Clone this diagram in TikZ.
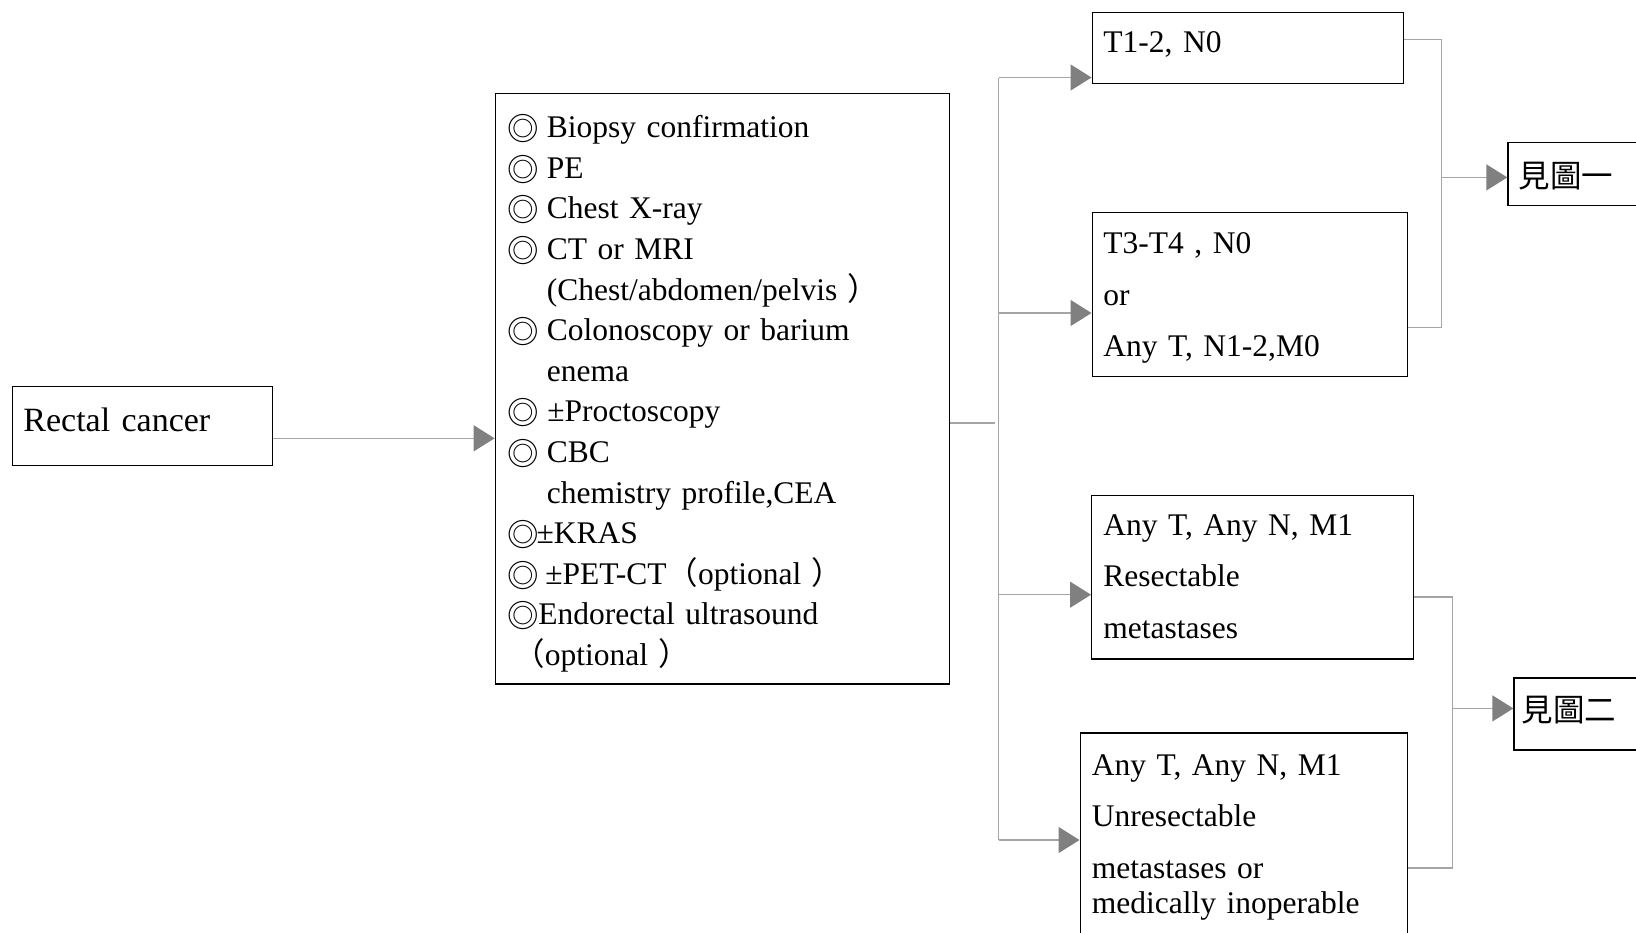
\documentclass[tikz,border=0pt]{standalone}
\usepackage{fontspec}
\setmainfont{Liberation Serif}
\newfontfamily\cjkfont{Noto Sans CJK TC}
\usetikzlibrary{arrows.meta}
\definecolor{linegray}{RGB}{165,165,165}
\definecolor{tipgray}{RGB}{128,128,128}
\newcommand{\listfont}{\fontsize{15.75pt}{20.3pt}\selectfont}
\newcommand{\rightfont}{\fontsize{15.75pt}{25.9pt}\selectfont}
\newcommand{\figfont}{\cjkfont\fontsize{15.75pt}{18pt}\selectfont}
\newcommand{\dcirc}[1][19.75pt]{\makebox[#1][l]{\raisebox{-1.5pt}{\cjkfont ◎}}}
\newcommand{\indentby}[1][19.75pt]{\hspace*{#1}}
\newcommand{\fwl}{{\cjkfont （}}
\newcommand{\fwr}{{\cjkfont ）}}
\tikzset{
  flowbox/.style={draw, line width=0.6pt, inner sep=0pt, anchor=north west},
  boxtext/.style={anchor=base west, inner sep=0pt, align=left, text width=#1},
  boxtext/.default=200pt,
  link/.style={draw=linegray, line width=0.7pt},
  linkarrow/.style={link, -{Triangle[length=10.5pt,width=13pt,color=tipgray]}},
}
\begin{document}
\begin{tikzpicture}[x=0.5pt, y=-0.5pt]
\useasboundingbox (0,0) rectangle (1636,932);
\clip (0,0) rectangle (1636,932);

% boxes
\node[flowbox, minimum width=130pt, minimum height=39.5pt] (rc) at (11.5,385.5) {};
\node[flowbox, minimum width=227pt, minimum height=295.25pt] (exam) at (494.6,92.9) {};
\node[flowbox, minimum width=155.5pt, minimum height=35.6pt] (t12) at (1091.5,11.5) {};
\node[flowbox, minimum width=157.5pt, minimum height=82.2pt] (t34) at (1091.5,211.7) {};
\node[flowbox, minimum width=161pt, minimum height=81.9pt] (res) at (1091,494.6) {};
\node[flowbox, minimum width=163.5pt, minimum height=105pt] (unres) at (1079.5,732.3) {};
\node[flowbox, minimum width=80pt, minimum height=31.65pt] (fig1) at (1507.3,141.7) {};
\node[flowbox, minimum width=80pt, minimum height=36pt] (fig2) at (1513.3,677.3) {};

% texts
\node[boxtext, font=\fontsize{17pt}{20pt}\selectfont] (rctxt) at (23,431) {Rectal cancer};
\node[boxtext=260pt, font=\listfont] (examtxt) at (507,137.7) {%
\dcirc Biopsy confirmation\\
\dcirc PE\\
\dcirc Chest X-ray\\
\dcirc CT or MRI\\
\indentby(Chest/abdomen/pelvis \fwr\\
\dcirc Colonoscopy or barium\\
\indentby enema\\
\dcirc[20pt]±Proctoscopy\\
\dcirc CBC\\
\indentby chemistry profile,CEA\\
\dcirc[14.6pt]±KRAS\\
\dcirc[19pt]±PET-CT\fwl optional \fwr\\
\dcirc[15.5pt]Endorectal ultrasound\\
\indentby[3pt]\fwl optional \fwr};
\node[boxtext, font=\rightfont] (t12txt) at (1103,52.7) {T1-2, N0};
\node[boxtext, font=\rightfont] (t34txt) at (1103,253.3) {T3-T4 , N0\\or\\Any T, N1-2,M0};
\node[boxtext, font=\rightfont] (restxt) at (1103,535) {Any T, Any N, M1\\Resectable\\metastases};
\node[boxtext, font=\rightfont] (unrestxt) at (1091.5,775) {Any T, Any N, M1\\Unresectable\\metastases or\\[-8.3pt]medically inoperable};
\node[boxtext, font=\figfont] (fig1txt) at (1518.5,187.8) {見圖一};
\node[boxtext, font=\figfont] (fig2txt) at (1521.5,721) {見圖二};

% connectors
\coordinate (split) at (998.7,423);
\coordinate (trtop) at (998.7,77.5);
\coordinate (trbot) at (998.7,840);
\coordinate (join1) at (1441.7,177.4);
\coordinate (join2) at (1452.7,708.4);

\draw[linkarrow] (rc.east |- 0,438.3) -- (exam.west |- 0,438.3);
\draw[link] (exam.east |- split) -- ([xshift=-1.8pt]split);
\draw[link] (trtop) -- (trbot);
\draw[linkarrow] (trtop) -- (t12.west |- trtop);
\draw[linkarrow] (trtop |- 0,313) -- (t34.west |- 0,313);
\draw[linkarrow] (trtop |- 0,594.7) -- (res.west |- 0,594.7);
\draw[linkarrow] (trbot) -- (unres.west |- trbot);
\draw[link] (t12.east |- 0,39.6) -| (join1) |- (t34.east |- 0,327.6);
\draw[linkarrow] (join1) -- (fig1.west |- join1);
\draw[link] (res.east |- 0,596.8) -| (join2) |- (unres.east |- 0,868);
\draw[linkarrow] (join2) -- (fig2.west |- join2);
\end{tikzpicture}
\end{document}
